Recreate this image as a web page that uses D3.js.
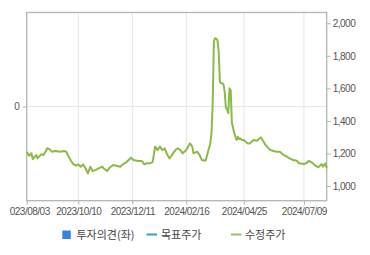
<!DOCTYPE html>
<html><head><meta charset="utf-8">
<script src="https://cdn.jsdelivr.net/npm/d3@7"></script>
<style>
html,body{margin:0;padding:0;background:#fff;}
svg{display:block;}
</style>
</head><body>
<svg id="c" width="370" height="255"></svg>
<script>
// trading-day index of each sampled point
const dayIndex = [0,2,4,5,8,9,12,14,16,17,19,21,24,28,31,33,35,37,39,41,43,45,47,49,51,53,55,57,60,63,64,67,69,72,75,78,80,83,87,89,93,96,98,100,103,105,107,109,111,113,115,117,119,121,124,126,128,130,133,136,138,139,142,144,146,149,150,153,154,155,156,157,158,159,160,161,162,163,164,165,166,167,168,169,170,171,172,173,174,175,176,177,178,179,180,181,184,186,189,192,195,197,199,203,205,208,211,214,217,219,222,225,227,231,233,235,238,240,243,246,247,249,250];
// adjusted price (수정주가)
const prices = [1211,1186,1201,1166,1191,1170,1195,1191,1215,1232,1227,1211,1215,1211,1215,1211,1180,1154,1133,1125,1133,1119,1133,1109,1078,1119,1092,1098,1109,1119,1109,1092,1112,1129,1125,1119,1133,1146,1174,1160,1154,1154,1133,1140,1140,1149,1242,1221,1242,1221,1232,1195,1170,1191,1221,1232,1221,1201,1221,1262,1242,1201,1211,1191,1160,1155,1180,1262,1324,1508,1890,1908,1905,1895,1825,1640,1631,1631,1625,1580,1480,1470,1448,1600,1590,1387,1356,1324,1301,1283,1303,1289,1293,1283,1283,1283,1262,1262,1283,1278,1299,1278,1252,1221,1217,1211,1211,1191,1180,1170,1160,1155,1140,1135,1140,1155,1143,1129,1115,1135,1119,1140,1109];
const lastIndex = 250;
const tickIndex = [0,43,88,133,181,231];
const tickLabels = ["2023/08/03","2023/10/10","2023/12/11","2024/02/16","2024/04/25","2024/07/09"];
const rightTicks = [1000,1200,1400,1600,1800,2000];
const leftTicks = [0];
const legendLabels = ["투자의견(좌)","목표주가","수정주가"];

const svg = d3.select("#c");
const L = 26.7, R = 326.7, T = 12.5, B = 200.7;
const x = d3.scaleLinear().domain([0,lastIndex]).range([L,R]);
const yR = d3.scaleLinear().domain([910,2066]).range([B,T]);
const yL = d3.scaleLinear().domain([-1,1]).range([B,T]);
const font = "'Liberation Sans', Arial, sans-serif";

svg.append("defs").append("clipPath").attr("id","xclip")
  .append("rect").attr("x",9.8).attr("y",-10).attr("width",364).attr("height",60);

// gridlines
svg.append("g").selectAll("line").data(tickIndex.slice(1)).join("line")
  .attr("x1",d=>x(d)).attr("x2",d=>x(d)).attr("y1",T).attr("y2",B)
  .attr("stroke","#e6e6e6").attr("stroke-width",1);
svg.append("g").selectAll("line").data(leftTicks).join("line")
  .attr("x1",L).attr("x2",R).attr("y1",d=>yL(d)).attr("y2",d=>yL(d))
  .attr("stroke","#e6e6e6").attr("stroke-width",1);

// frame
svg.append("rect").attr("x",L).attr("y",T).attr("width",R-L).attr("height",B-T)
  .attr("fill","none").attr("stroke","#b4b4b4").attr("stroke-width",1.3);

// axes
const xAxis = d3.axisBottom(x).tickValues(tickIndex).tickFormat((d,i)=>tickLabels[i]).tickSize(4).tickPadding(3);
const gx = svg.append("g").attr("transform",`translate(0,${B})`).attr("clip-path","url(#xclip)").call(xAxis);
gx.select(".domain").remove();
gx.selectAll("line").attr("stroke","#b4b4b4");
gx.selectAll("text").attr("fill","#555").style("font-family",font).style("font-size","10px").style("letter-spacing","-0.5px");

const rAxis = d3.axisRight(yR).tickValues(rightTicks).tickFormat(d3.format(",")).tickSize(4).tickPadding(2);
const gr = svg.append("g").attr("transform",`translate(${R},0)`).call(rAxis);
gr.select(".domain").remove();
gr.selectAll("line").attr("stroke","#b4b4b4");
gr.selectAll("text").attr("fill","#555").style("font-family",font).style("font-size","10px").style("letter-spacing","-0.5px");

const lAxis = d3.axisLeft(yL).tickValues(leftTicks).tickFormat(d3.format("d")).tickSize(4).tickPadding(3);
const gl = svg.append("g").attr("transform",`translate(${L},0)`).call(lAxis);
gl.select(".domain").remove();
gl.selectAll("line").attr("stroke","#b4b4b4");
gl.selectAll("text").attr("fill","#555").style("font-family",font).style("font-size","10px");

// price line
const pts = dayIndex.map((d,i)=>[d,prices[i]]);
svg.append("path").datum(pts)
  .attr("d",d3.line().x(d=>x(d[0])).y(d=>yR(d[1])))
  .attr("fill","none").attr("stroke","#8cba4a").attr("stroke-width",2).attr("stroke-linejoin","round");

// legend
const lg = svg.append("g").style("font-family","'Noto Sans CJK KR', sans-serif").style("font-size","11px").attr("fill","#444");
lg.append("rect").attr("x",62.3).attr("y",230.5).attr("width",8.5).attr("height",8.5).attr("fill","#3584e4");
lg.append("text").attr("x",76.5).attr("y",238.5).text(legendLabels[0]);
lg.append("line").attr("x1",146.5).attr("x2",157).attr("y1",234.5).attr("y2",234.5).attr("stroke","#2aa6b8").attr("stroke-width",2);
lg.append("text").attr("x",161).attr("y",238.5).text(legendLabels[1]);
lg.append("line").attr("x1",231).attr("x2",241.5).attr("y1",234.5).attr("y2",234.5).attr("stroke","#9cc264").attr("stroke-width",2);
lg.append("text").attr("x",245).attr("y",238.5).text(legendLabels[2]);
</script>
</body></html>
